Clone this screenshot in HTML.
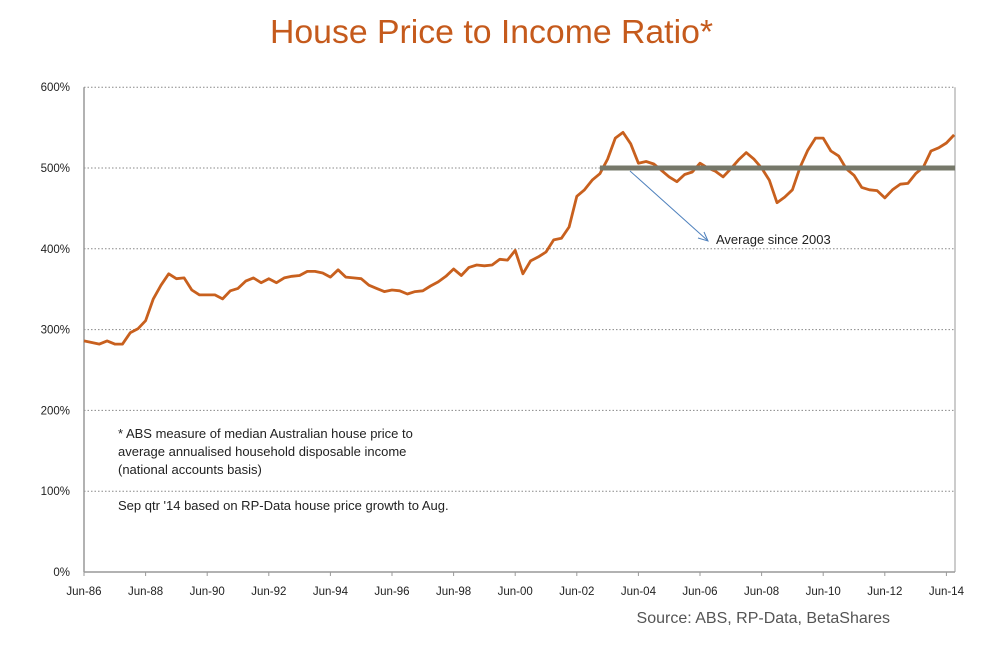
<!DOCTYPE html>
<html><head><meta charset="utf-8"><style>
body{margin:0;background:#fff;}
svg text{font-family:"Liberation Sans",sans-serif;}
</style></head><body>
<svg id="chart" width="982" height="644" viewBox="0 0 982 644">
<text x="270" y="43" font-size="33" textLength="443" lengthAdjust="spacingAndGlyphs" fill="#c55a1c">House Price to Income Ratio*</text>
<g id="grid"></g>
<g id="axes"></g>
<g id="series"></g>
<line x1="630" y1="171" x2="707" y2="240" stroke="#4f81bd" stroke-width="1"/>
<polyline points="698,238 708,241 704,232" fill="none" stroke="#4f81bd" stroke-width="1"/>
<text x="716" y="244" font-size="13" fill="#222">Average since 2003</text>
<g font-size="13" fill="#222">
<text x="118" y="438">* ABS measure of median Australian house price to</text>
<text x="118" y="456">average annualised household disposable income</text>
<text x="118" y="474">(national accounts basis)</text>
<text x="118" y="510">Sep qtr '14  based on RP-Data house price growth to Aug.</text>
</g>
<text x="890" y="623" text-anchor="end" font-size="16" fill="#555">Source: ABS, RP-Data, BetaShares</text>
</svg>
<script>
const yTicks=[0,100,200,300,400,500,600];
const xLabels=["Jun-86","Jun-88","Jun-90","Jun-92","Jun-94","Jun-96","Jun-98","Jun-00","Jun-02","Jun-04","Jun-06","Jun-08","Jun-10","Jun-12","Jun-14"];
const ratio=[286,284,282,286,282,282,296,301,311,338,
355,369,363,364,349,343,343,343,338,348,
351,360,364,358,363,358,364,366,367,372,
372,370,365,374,365,364,363,355,351,347,
349,348,344,347,348,354,359,366,375,367,
377,380,379,380,387,386,398,369,385,390,
396,411,413,427,465,473,485,493,511,537,
544,530,506,508,505,497,489,483,492,495,
506,500,496,489,499,510,519,511,500,485,
457,464,473,501,522,537,537,521,515,499,
491,476,473,472,463,473,480,481,493,501,
521,525,531,541];
const avgValue=[500];
const avgStartIndex=[67];
const NS="http://www.w3.org/2000/svg";
const X0=84,STEP=7.7,Y0=572,YPX=80.8,XR=955;
const xs=i=>X0+i*STEP;
const ys=v=>Y0-v*YPX/100;
function mk(tag,attrs,parent){const e=document.createElementNS(NS,tag);for(const k in attrs)e.setAttribute(k,attrs[k]);parent.appendChild(e);return e;}
const grid=document.getElementById('grid'),axes=document.getElementById('axes'),ser=document.getElementById('series');
yTicks.forEach(v=>{
 if(v>0){const g=mk('line',{x1:X0,x2:XR,y1:ys(v),y2:ys(v),stroke:'#888','stroke-dasharray':'1.5,2','stroke-width':1},grid);
 
 }
 const t=mk('text',{x:70,y:ys(v)+4,'text-anchor':'end','font-size':11.5,fill:'#222'},axes);
 t.textContent=v+'%';
 
 
});
const ax=mk('line',{x1:X0,x2:X0,y1:ys(600),y2:Y0,stroke:'#999','stroke-width':1.5},axes);


const rx=mk('line',{x1:XR,x2:XR,y1:ys(600),y2:Y0,stroke:'#999','stroke-width':1},axes);


const bx=mk('line',{x1:X0,x2:XR,y1:Y0,y2:Y0,stroke:'#999','stroke-width':1.5},axes);


xLabels.forEach((l,k)=>{
 const x=xs(k*8);
 const tk=mk('line',{x1:x,x2:x,y1:Y0,y2:Y0+4,stroke:'#999'},axes);
 
 
 const t=mk('text',{x:x,y:595,'text-anchor':'middle','font-size':11.5,fill:'#222'},axes);
 t.textContent=l;
 
 
});
const pts=ratio.map((v,i)=>xs(i).toFixed(1)+','+ys(v).toFixed(1)).join(' ');
const avg=mk('line',{x1:xs(avgStartIndex[0]),x2:XR,y1:ys(avgValue[0]),y2:ys(avgValue[0]),stroke:'#76786a','stroke-width':5},ser);


const pl=mk('polyline',{points:pts,fill:'none',stroke:'#c8601e','stroke-width':2.8,'stroke-linejoin':'round'},ser);


ser.appendChild(avg);
</script>
</body></html>
